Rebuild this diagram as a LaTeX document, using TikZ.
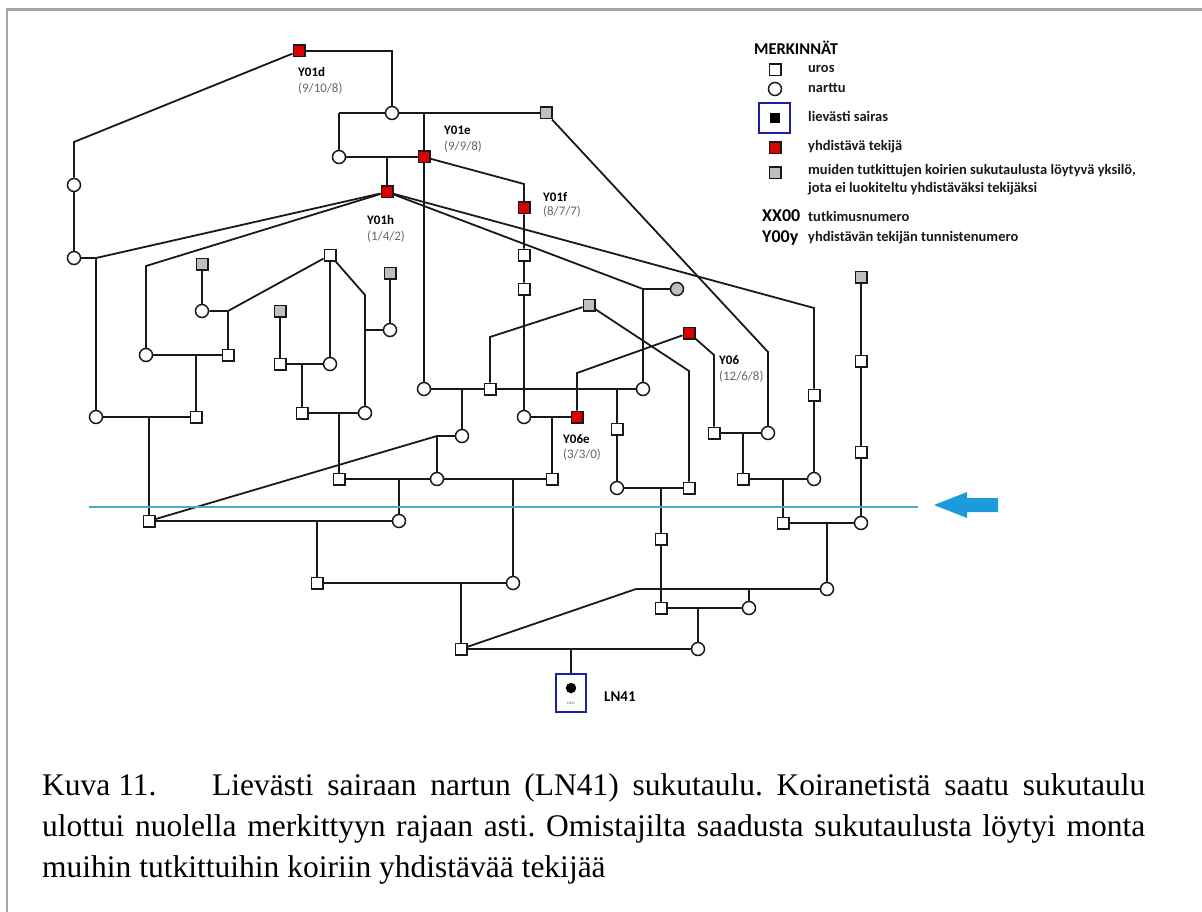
\documentclass[tikz,border=0pt]{standalone}
\usepackage{fontspec}
\setmainfont{Liberation Serif}
\newfontfamily\calibri{Carlito}
\usetikzlibrary{positioning,calc}
\frenchspacing

\definecolor{redfill}{RGB}{220,0,0}
\definecolor{greyfill}{RGB}{191,191,191}
\definecolor{limitblue}{RGB}{75,172,198}
\definecolor{arrowblue}{RGB}{28,155,220}
\definecolor{framegrey}{RGB}{166,166,166}
\definecolor{boxblue}{RGB}{30,30,160}

\begin{document}
\begin{tikzpicture}[
    x=1pt, y=-1pt,
    link/.style={draw=black!90, line width=1.8pt},
    male/.style={draw=black!90, fill=white, line width=1.5pt, minimum size=11.5pt, inner sep=0pt},
    female/.style={circle, draw=black!90, fill=white, line width=1.5pt, minimum size=13pt, inner sep=0pt},
    common/.style={male, fill=redfill},
    other/.style={male, fill=greyfill},
    otherf/.style={female, fill=greyfill},
    tag/.style={font=\calibri\bfseries\fontsize{13}{15}\selectfont, anchor=west, inner sep=0pt},
    counts/.style={font=\calibri\fontsize{13}{15}\selectfont, text=black!60, anchor=west, inner sep=0pt},
    legtxt/.style={font=\calibri\bfseries\fontsize{14.5}{18}\selectfont, text=black!90, anchor=west, inner sep=0pt, align=left},
    legcode/.style={font=\calibri\bfseries\fontsize{18}{20}\selectfont, anchor=west, inner sep=0pt}
]
\useasboundingbox (0,0) rectangle (1202,912);

% --- Frame ---
\draw[framegrey, line width=2.5pt] (7,912) -- (7,9.5) -- (1202,9.5);

% --- Individuals: top generations ---
\node[common] (y01d) at (299,51) {};
\node[female] (f1)   at (392,113) {};
\node[other]  (g1)   at (546,113) {};
\node[female] (f2)   at (339,157) {};
\node[common] (y01e) at (424,157) {};
\node[common] (y01h) at (387,192) {};
\node[common] (y01f) at (524,208) {};
\node[male]   (m1)   at (524,255) {};
\node[male]   (m2)   at (524,289) {};
\node[female] (f3)   at (74,185) {};
\node[female] (f4)   at (74,258) {};

% --- Individuals: left branch ---
\node[other]  (g2)  at (202,264) {};
\node[female] (f5)  at (202,311) {};
\node[male]   (m3)  at (228,355) {};
\node[female] (f6)  at (146,355) {};
\node[male]   (m4)  at (196,417) {};
\node[female] (f7)  at (96,417) {};
\node[male]   (m5)  at (149,521) {};
\node[male]   (m6)  at (330,255) {};
\node[female] (f8)  at (330,364) {};
\node[other]  (g3)  at (390,273) {};
\node[female] (f9)  at (390,330) {};
\node[female] (f10) at (365,413) {};
\node[other]  (g4)  at (280,311) {};
\node[male]   (m7)  at (280,364) {};
\node[male]   (m8)  at (302,413) {};
\node[male]   (m9)  at (339,479) {};

% --- Individuals: middle and right branch ---
\node[female] (f11)  at (424,389) {};
\node[male]   (m10)  at (490,389) {};
\node[female] (f12)  at (643,389) {};
\node[otherf] (gc)   at (677,289) {};
\node[other]  (g5)   at (589,305) {};
\node[female] (f13)  at (462,436) {};
\node[female] (f14)  at (437,479) {};
\node[male]   (m11)  at (552,479) {};
\node[female] (f15)  at (524,417) {};
\node[common] (y06e) at (577,417) {};
\node[common] (y06)  at (689,333) {};
\node[male]   (m12)  at (617,429) {};
\node[female] (f16)  at (617,488) {};
\node[male]   (m13)  at (689,488) {};
\node[male]   (m14)  at (714,433) {};
\node[female] (f17)  at (768,433) {};
\node[male]   (m15)  at (743,479) {};
\node[male]   (m16)  at (814,395) {};
\node[female] (f18)  at (814,479) {};
\node[other]  (g6)   at (861,277) {};
\node[male]   (m17)  at (861,361) {};
\node[male]   (m18)  at (861,452) {};
\node[female] (f19)  at (861,523) {};
\node[male]   (m19)  at (783,523) {};
\node[female] (f20)  at (827,589) {};
\node[male]   (m20)  at (661,539) {};
\node[male]   (m21)  at (661,608) {};
\node[female] (f21)  at (749,608) {};
\node[female] (f22)  at (399,521) {};
\node[male]   (m22)  at (317,583) {};
\node[female] (f23)  at (513,583) {};
\node[male]   (m23)  at (461,649) {};
\node[female] (f24)  at (698,649) {};

% --- Proband ---
\node[draw=boxblue, line width=1.5pt, minimum width=30pt, minimum height=38pt, inner sep=0pt] (ln41) at (571,693) {};
\node[circle, fill=black, minimum size=10.5pt, inner sep=0pt] (ln41dot) at (571,688) {};
\node[font=\calibri\fontsize{4}{4}\selectfont, text=black!60, inner sep=0pt] (ln41tag) at (571,703) {LN41};
\node[font=\calibri\bfseries\fontsize{15}{17}\selectfont, anchor=west, inner sep=0pt] (ln41lbl) at (604,697) {LN41};

% --- Junction points ---
\coordinate (a1)  at (74,142);
\coordinate (a2)  at (339,113);
\coordinate (a3)  at (424,113);
\coordinate (a4)  at (387,157);
\coordinate (a5)  at (96,258);
\coordinate (a6)  at (146,266);
\coordinate (a7)  at (643,289);
\coordinate (a8)  at (814,308);
\coordinate (a9)  at (768,352);
\coordinate (a10) at (228,311);
\coordinate (a11) at (196,355);
\coordinate (a12) at (149,417);
\coordinate (a13) at (365,295);
\coordinate (a14) at (365,330);
\coordinate (a15) at (302,364);
\coordinate (a16) at (339,413);
\coordinate (a17) at (462,389);
\coordinate (a18) at (617,389);
\coordinate (a19) at (490,337);
\coordinate (a20) at (689,371);
\coordinate (a21) at (437,436);
\coordinate (a22) at (399,479);
\coordinate (a23) at (513,479);
\coordinate (a24) at (552,417);
\coordinate (a25) at (577,373);
\coordinate (a26) at (714,355);
\coordinate (a27) at (743,433);
\coordinate (a28) at (783,479);
\coordinate (a29) at (827,523);
\coordinate (a30) at (661,488);
\coordinate (a31) at (698,608);
\coordinate (a32) at (636,589);
\coordinate (a33) at (749,589);
\coordinate (a34) at (317,521);
\coordinate (a35) at (461,583);
\coordinate (a36) at (571,649);
\coordinate (ae)  at (524,184);

% --- Lines: top ---
\draw[link] (y01d) -- (a1) -- (f3) -- (f4);
\draw[link] (y01d) -| (f1);
\draw[link] (a2) -- (f1) -- (g1);
\draw[link] (a2) -- (f2) -- (y01e);
\draw[link] (a3) -- (y01e) -- (f11);
\draw[link] (a4) -- (y01h);
\draw[link] (y01e) -- (ae) -- (y01f) -- (m1) -- (m2) -- (f15);
\draw[link] (g1) -- (a9) -- (f17);

% --- Lines: from Y01h ---
\draw[link] (y01h) -- (a5);
\draw[link] (f4) -- (a5) -- (f7);
\draw[link] (y01h) -- (a6) -- (f6);
\draw[link] (y01h) -- (a7) -- (gc);
\draw[link] (a7) -- (f12);
\draw[link] (y01h) -- (a8) -- (m16) -- (f18);

% --- Lines: left branch ---
\draw[link] (g2) -- (f5) -- (a10) -- (m6);
\draw[link] (a10) -- (m3);
\draw[link] (f6) -- (m3);
\draw[link] (a11) -- (m4);
\draw[link] (f7) -- (m4);
\draw[link] (a12) -- (m5);
\draw[link] (m6) -- (f8);
\draw[link] (m6) -- (a13) -- (f10);
\draw[link] (a14) -- (f9);
\draw[link] (g3) -- (f9);
\draw[link] (g4) -- (m7) -- (f8);
\draw[link] (a15) -- (m8) -- (f10);
\draw[link] (a16) -- (m9);

% --- Lines: middle branch ---
\draw[link] (f11) -- (m10) -- (f12);
\draw[link] (a17) -- (f13);
\draw[link] (a18) -- (m12) -- (f16);
\draw[link] (m10) -- (a19) -- (g5);
\draw[link] (g5) -- (a20) -- (m13);
\draw[link] (f13) -- (a21) -- (m5);
\draw[link] (a21) -- (f14);
\draw[link] (m9) -- (f14) -- (m11);
\draw[link] (a22) -- (f22);
\draw[link] (a23) -- (f23);
\draw[link] (f15) -- (y06e);
\draw[link] (a24) -- (m11);
\draw[link] (y06e) -- (a25) -- (y06);
\draw[link] (y06) -- (a26) -- (m14);

% --- Lines: right branch ---
\draw[link] (m14) -- (f17);
\draw[link] (a27) -- (m15);
\draw[link] (m15) -- (f18);
\draw[link] (a28) -- (m19);
\draw[link] (g6) -- (m17) -- (m18) -- (f19);
\draw[link] (m19) -- (f19);
\draw[link] (a29) -- (f20);
\draw[link] (f16) -- (m13);
\draw[link] (a30) -- (m20) -- (m21);
\draw[link] (m21) -- (f21);
\draw[link] (a31) -- (f24);
\draw[link] (a32) -- (f20);
\draw[link] (a33) -- (f21);
\draw[link] (a32) -- (m23);

% --- Lines: bottom ---
\draw[link] (m5) -- (f22);
\draw[link] (a34) -- (m22);
\draw[link] (m22) -- (f23);
\draw[link] (a35) -- (m23);
\draw[link] (m23) -- (f24);
\draw[link] (a36) -- (ln41);

% --- Labels of common ancestors ---
\node[tag]    (ly01d) at (298,72)  {Y01d};
\node[counts] (ny01d) at (298,89)  {(9/10/8)};
\node[tag]    (ly01e) at (444,130) {Y01e};
\node[counts] (ny01e) at (444,147) {(9/9/8)};
\node[tag]    (ly01f) at (543,197) {Y01f};
\node[counts] (ny01f) at (543,212) {(8/7/7)};
\node[tag]    (ly01h) at (367,220) {Y01h};
\node[counts] (ny01h) at (367,237) {(1/4/2)};
\node[tag]    (ly06e) at (563,439) {Y06e};
\node[counts] (ny06e) at (563,455) {(3/3/0)};
\node[tag]    (ly06)  at (719,360) {Y06};
\node[counts] (ny06)  at (719,377) {(12/6/8)};

% --- Limit of the online pedigree ---
\coordinate (lim1) at (89,507);
\coordinate (lim2) at (918,507);
\draw[limitblue, line width=2.5pt] (lim1) -- (lim2);
\fill[arrowblue] (934,505) -- (967,492) -- (967,498) -- (998,498) -- (998,512)
    -- (967,512) -- (967,518) -- cycle;

% --- Legend ---
\node[font=\calibri\bfseries\fontsize{16.5}{18}\selectfont, anchor=west, inner sep=0pt] (leghead) at (754,48) {MERKINNÄT};
\node[male]   (lmale) at (775,70) {};
\node[legtxt] (tmale) at (808,69) {uros};
\node[female] (lfem)  at (775,89) {};
\node[legtxt] (tfem)  at (808,88) {narttu};
\node[draw=boxblue, line width=1.3pt, minimum width=31pt, minimum height=30pt, inner sep=0pt] (lsick) at (774.5,118) {};
\node[fill=black, minimum size=10pt, inner sep=0pt] (lsickdot) at (775,118) {};
\node[legtxt] (tsick) at (808,116) {lievästi sairas};
\node[common] (lcom)  at (775,148) {};
\node[legtxt] (tcom)  at (808,147) {yhdistävä tekijä};
\node[other]  (loth)  at (775,173) {};
\node[legtxt] (toth)  at (808,180) {muiden tutkittujen koirien sukutaulusta löytyvä yksilö,\\jota ei luokiteltu yhdistäväksi tekijäksi};
\node[legcode] (lxx)  at (762,216) {XX00};
\node[legtxt]  (txx)  at (808,216) {tutkimusnumero};
\node[legcode] (lyy)  at (762,238) {Y00y};
\node[legtxt]  (tyy)  at (808,238) {yhdistävän tekijän tunnistenumero};

% --- Caption ---
\node[font=\fontsize{31.5}{41}\selectfont, text width=1103pt, align=justify, anchor=north west, inner sep=0pt] (kuva) at (42,773)
    {\makebox[170pt][l]{Kuva 11.}Lievästi sairaan nartun (LN41) sukutaulu. Koiranetistä saatu sukutaulu\linebreak
     ulottui nuolella merkittyyn rajaan asti. Omistajilta saadusta sukutaulusta löytyi monta\linebreak
     muihin tutkittuihin koiriin yhdistävää tekijää};

\end{tikzpicture}
\end{document}
